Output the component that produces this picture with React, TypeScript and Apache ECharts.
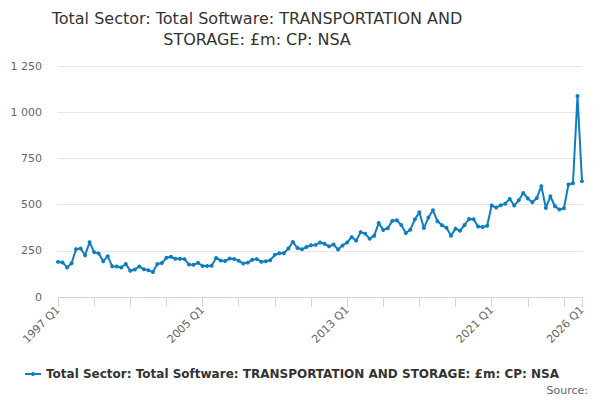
import { useEffect, useRef } from 'react';
import * as echarts from 'echarts';

const startYear = 1997;
const quarters: string[] = [];
for (let y = startYear; y <= 2026; y++) {
  for (let q = 1; q <= 4; q++) {
    if (y === 2026 && q > 1) break;
    quarters.push(`${y} Q${q}`);
  }
}

const values = [
  190, 187, 160, 183, 259, 263, 226, 297, 242, 236,
  193, 221, 166, 165, 160, 179, 142, 149, 165, 150,
  145, 135, 178, 184, 212, 218, 207, 207, 205, 176,
  174, 185, 168, 168, 169, 211, 198, 195, 208, 206,
  196, 181, 186, 201, 205, 191, 194, 199, 228, 237,
  237, 262, 298, 265, 258, 270, 280, 282, 295, 288,
  274, 284, 257, 279, 295, 324, 305, 351, 343, 315,
  332, 400, 363, 372, 412, 415, 390, 346, 364, 420,
  459, 373, 430, 469, 410, 388, 375, 332, 370, 358,
  390, 422, 421, 382, 379, 386, 495, 484, 496, 505,
  531, 495, 524, 563, 533, 513, 536, 600, 482, 545,
  491, 473, 480, 609, 616, 1088, 627,
];

const seriesName = 'Total Sector: Total Software: TRANSPORTATION AND STORAGE: £m: CP: NSA';
const titleText = 'Total Sector: Total Software: TRANSPORTATION AND\nSTORAGE: £m: CP: NSA';

const font = '"DejaVu Sans", Verdana, sans-serif';
const lineColor = '#0e7dc2';

function fmt(v: number) {
  return String(v).replace(/\B(?=(\d{3})+(?!\d))/g, ' ');
}

export default function App() {
  const chartRef = useRef(null);
  useEffect(() => {
    const chart = echarts.init(chartRef.current, null, { renderer: 'svg' });
    const last = quarters.length - 1;
    chart.setOption({
      animation: false,
      textStyle: { fontFamily: font },
      title: {
        text: titleText,
        left: 252,
        textAlign: 'center',
        top: 3,
        textStyle: { fontFamily: font, fontSize: 16, fontWeight: 'normal', color: '#333', lineHeight: 21 },
      },
      grid: { left: 58, right: 18, top: 66, bottom: 103 },
      legend: {
        left: 19,
        top: 363,
        itemWidth: 16,
        itemHeight: 5,
        textStyle: { fontFamily: font, fontSize: 12, fontWeight: 'bold', color: '#333' },
        data: [seriesName],
      },
      xAxis: {
        type: 'category',
        boundaryGap: false,
        data: quarters,
        axisLine: { lineStyle: { color: '#ccd6eb' } },
        axisTick: {
          length: 10,
          lineStyle: { color: '#ccd6eb' },
          interval: (i: number) => i % 8 === 0 || i === last,
        },
        axisLabel: {
          rotate: 45,
          margin: 11,
          color: '#666',
          fontSize: 11,
          fontFamily: font,
          interval: (i: number) => i % 32 === 0 || i === last,
        },
      },
      yAxis: {
        type: 'value',
        min: 0,
        max: 1250,
        interval: 250,
        axisLine: { show: false },
        axisTick: { show: false },
        axisLabel: { color: '#666', fontSize: 11, fontFamily: font, margin: 16, formatter: fmt },
        splitLine: { lineStyle: { color: '#e6e6e6' } },
      },
      graphic: [
        {
          type: 'text',
          right: 12,
          top: 385,
          style: { text: 'Source:', fill: '#666', font: `11px ${font}` },
        },
      ],
      series: [
        {
          name: seriesName,
          type: 'line',
          data: values,
          symbol: 'circle',
          symbolSize: 4,
          showAllSymbol: true,
          itemStyle: { color: lineColor },
          lineStyle: { color: lineColor, width: 2 },
        },
      ],
    });
    return () => {
      chart.dispose();
    };
  }, []);

  return <div ref={chartRef} style={{ width: '600px', height: '400px', position: 'absolute', left: 0, top: 0 }} />;
}
